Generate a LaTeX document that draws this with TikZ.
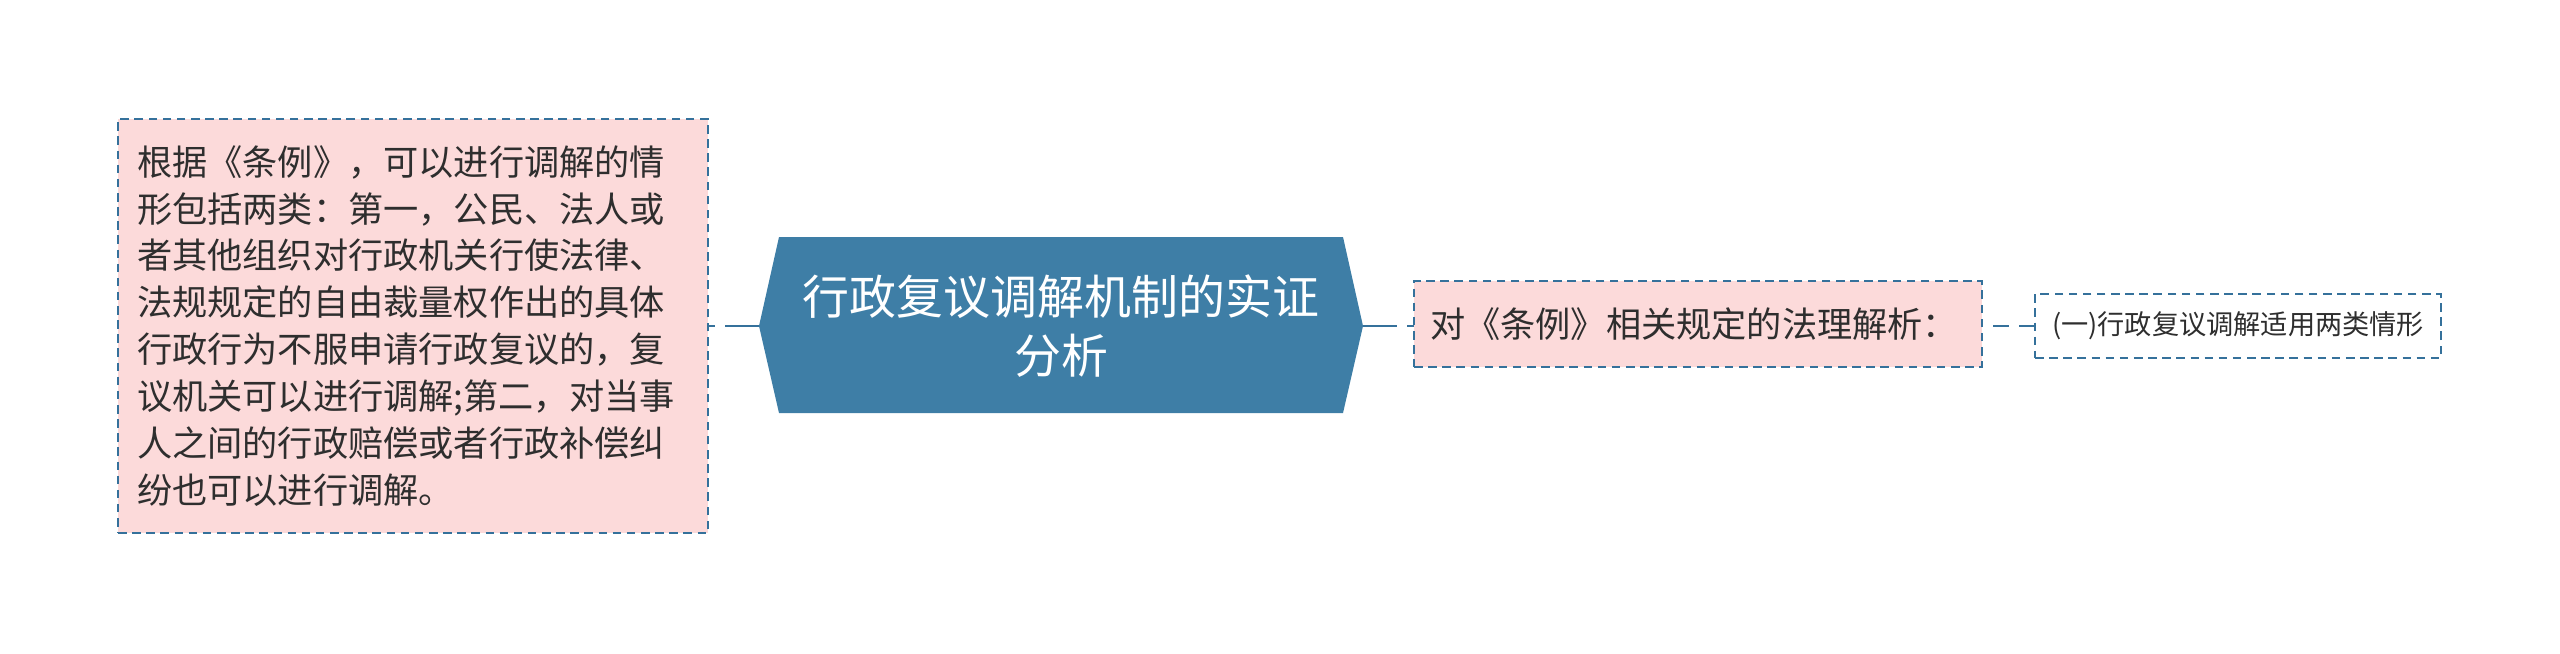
\documentclass[tikz,border=0pt]{standalone}
\usepackage{fontspec}
\setmainfont{Noto Sans CJK SC}
\definecolor{hexblue}{HTML}{3E7EA6}
\definecolor{lineblue}{HTML}{35719B}
\definecolor{pinkfill}{HTML}{FCDADA}
\begin{document}
\begin{tikzpicture}[x=0.375pt,y=-0.375pt,
  pinkbox/.style={draw=lineblue, line width=0.85pt, dash pattern=on 3.2pt off 2.1pt, fill=pinkfill, inner ysep=0pt, outer sep=0pt},
  whitebox/.style={draw=lineblue, line width=0.85pt, dash pattern=on 3.2pt off 2.1pt, fill=white, inner ysep=0pt, outer sep=0pt},
  conn/.style={draw=lineblue, line width=1.1pt},
  bodytext/.style={font=\fontsize{13.2pt}{17.6pt}\selectfont, text=black!82}
]
\useasboundingbox (0,0) rectangle (2560,653);
% hexagon
\fill[hexblue] (759,326) -- (779,237) -- (1343,237) -- (1363,326) -- (1343,413) -- (779,413) -- cycle;
\node[inner sep=0pt, outer sep=0pt, minimum width=226.5pt, minimum height=66pt, align=center,
      text=white, font=\fontsize{17.6pt}{21.8pt}\selectfont] (hex) at (1061,326)
  {行政复议调解机制的实证\\分析};
% left box
\node[pinkbox, bodytext, text width=207pt, inner xsep=7.1pt, minimum height=155.25pt, align=left] (left) at (413,326)
  {根据《条例》，可以进行调解的情\\形包括两类：第一，公民、法人或\\者其他组织对行政机关行使法律、\\法规规定的自由裁量权作出的具体\\行政行为不服申请行政复议的，复\\议机关可以进行调解;第二，对当事\\人之间的行政赔偿或者行政补偿纠\\纷也可以进行调解。};
% middle box
\node[pinkbox, bodytext, text width=201pt, inner xsep=6pt, minimum height=32.25pt, align=left] (mid) at (1698,324)
  {对《条例》相关规定的法理解析：};
% right box
\node[whitebox, font=\fontsize{10.2pt}{12pt}\selectfont, text=black!82, minimum width=152.25pt, minimum height=24pt, inner xsep=0pt, align=center] (right) at (2238,326)
  {(一)行政复议调解适用两类情形};
% connectors
\draw[conn, dash pattern=on 12.75pt off 3.9pt] (hex.west) -- (left.east |- hex.west);
\draw[conn, dash pattern=on 12.75pt off 3.9pt] (hex.east) -- (mid.west |- hex.east);
\draw[conn, dash pattern=on 6pt off 3.8pt] (right.west) -- (mid.east |- right.west);
\end{tikzpicture}
\end{document}
